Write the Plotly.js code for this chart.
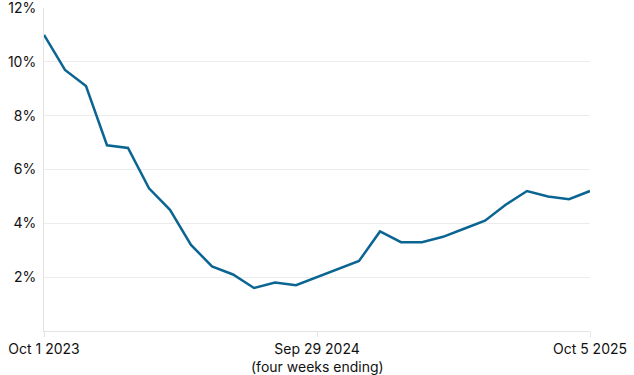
<!DOCTYPE html>
<html>
<head>
<meta charset="utf-8">
<script src="https://cdn.plot.ly/plotly-3.0.1.min.js"></script>
<style>html,body{margin:0;padding:0;background:#fff;}#chart{width:634px;height:375px;}</style>
</head>
<body>
<div id="chart"></div>
<script>
// Four-week periods ending
const periods = [
  "Oct 1 2023","Oct 29 2023","Nov 26 2023","Dec 24 2023","Jan 21 2024","Feb 18 2024",
  "Mar 17 2024","Apr 14 2024","May 12 2024","Jun 9 2024","Jul 7 2024","Aug 4 2024",
  "Sep 1 2024","Sep 29 2024","Oct 27 2024","Nov 24 2024","Dec 22 2024","Jan 19 2025",
  "Feb 16 2025","Mar 16 2025","Apr 13 2025","May 11 2025","Jun 8 2025","Jul 6 2025",
  "Aug 3 2025","Aug 31 2025","Oct 5 2025"
];
const values = [
  11.0, 9.7, 9.1, 6.9, 6.8, 5.3, 4.5, 3.2, 2.4, 2.1, 1.6, 1.8, 1.7,
  2.0, 2.3, 2.6, 3.7, 3.3, 3.3, 3.5, 3.8, 4.1, 4.7, 5.2, 5.0, 4.9, 5.2
];
const xTickLabels = ["Oct 1 2023", "Sep 29 2024", "Oct 5 2025"];
const yTicks = [2, 4, 6, 8, 10, 12];
const yTickLabels = ["2%", "4%", "6%", "8%", "10%", "12%"];
const xTitle = "(four weeks ending)";

const font = {family: "Inter, 'Liberation Sans', sans-serif", size: 14, color: "#111"};

Plotly.newPlot("chart", [{
  x: periods,
  y: values,
  type: "scatter",
  mode: "lines",
  line: {color: "#0b6592", width: 2.5},
  hoverinfo: "skip",
  cliponaxis: false
}], {
  width: 634, height: 375,
  margin: {l: 44, r: 44, t: 8, b: 44},
  paper_bgcolor: "#fff", plot_bgcolor: "#fff",
  font: font,
  showlegend: false,
  xaxis: {
    type: "category",
    range: [0, periods.length - 1],
    tickvals: xTickLabels,
    ticktext: xTickLabels,
    showgrid: false,
    showline: true, linecolor: "#e3e3e3", linewidth: 1,
    ticks: "outside", ticklen: 5, tickcolor: "#e3e3e3",
    zeroline: false,
    automargin: false,
    ticklabeloverflow: "allow",
    tickfont: font
  },
  yaxis: {
    range: [0, 12.001],
    tickmode: "array",
    tickvals: yTicks,
    ticktext: yTickLabels,
    showgrid: true, gridcolor: "#ececec", gridwidth: 1,
    showline: true, linecolor: "#e3e3e3", linewidth: 1,
    zeroline: false,
    automargin: false,
    ticklabeloverflow: "allow",
    ticks: "",
    ticklabelstandoff: 4,
    tickfont: font
  },
  annotations: [{
    text: xTitle, xref: "paper", yref: "paper",
    x: 0.5, y: -0.111, xanchor: "center", yanchor: "middle",
    showarrow: false, font: font
  }]
}, {displayModeBar: false, staticPlot: true});
</script>
</body>
</html>
